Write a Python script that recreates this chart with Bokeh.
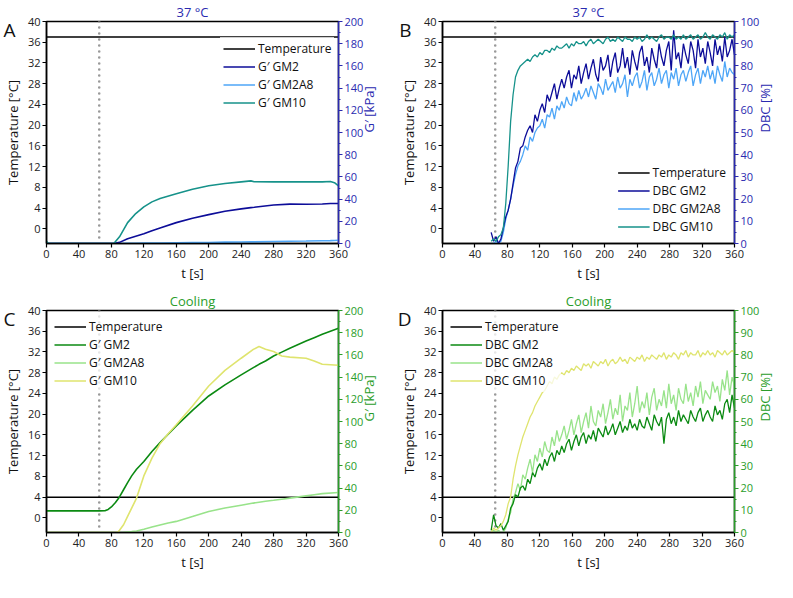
import math
from bokeh.plotting import figure
from bokeh.models import Range1d, LinearAxis, FixedTicker, Span, Legend, LegendItem
from bokeh.layouts import column, row
from bokeh.embed import file_html
from bokeh.resources import INLINE

FONT = "Open Sans"

# ---------------- ticks ----------------
X_TICKS = [0, 40, 80, 120, 160, 200, 240, 280, 320, 360]
TEMP_TICKS = [0, 4, 8, 12, 16, 20, 24, 28, 32, 36, 40]
GP_TICKS = [0, 20, 40, 60, 80, 100, 120, 140, 160, 180, 200]
GP_MINOR = [10, 30, 50, 70, 90, 110, 130, 150, 170, 190]
DBC_TICKS = [0, 10, 20, 30, 40, 50, 60, 70, 80, 90, 100]
DBC_MINOR = [5, 15, 25, 35, 45, 55, 65, 75, 85, 95]

# ---------------- temperature ----------------
temp_t = [0, 360]
temp_37 = [37, 37]
temp_4 = [4, 4]
t_irradiation = 65

# ---------------- panel A: G' at 37 °C [kPa] ----------------
a_t = [0, 2, 83, 90, 100, 110, 120, 130, 140, 160, 180, 200, 220, 240, 252, 256, 280, 300, 320, 340, 350, 355, 360]
a_gm2 = [0, 0, 0, 1, 4.3, 6.5, 8.7, 11.5, 14, 18.8, 22.8, 26, 29, 31.2, 32.3, 32.6, 34.7, 35.5, 35.3, 35.6, 36, 36, 36.1]
a_gm2a8 = [0, 0, 0, 0, 0.1, 0.2, 0.3, 0.4, 0.5, 0.7, 0.8, 0.9, 1.2, 1.4, 1.5, 1.5, 1.8, 2.0, 2.2, 2.5, 2.6, 2.7, 2.9]
a_gm10 = [2, 0, 0, 6, 18.8, 27, 33, 37.5, 40.5, 44.8, 48.8, 52, 54, 55.5, 56.4, 55.6, 55.5, 55.5, 55.5, 55.5, 55.8, 54.8, 52]

# ---------------- panel C: G' cooling [kPa] ----------------
c_t = [0, 65, 72, 76, 80, 85, 88, 90, 95, 100, 105, 111, 120, 130, 140, 150, 160, 180, 200, 220, 240, 255, 262, 270, 280, 290, 300, 320, 330, 340, 360]
c_gm2 = [19.5, 19.5, 19.6, 20.8, 23, 27, 30, 32, 38.5, 45, 51, 57, 64, 73, 81, 88.5, 96, 110, 123, 133, 142, 148.5, 151.5, 154.5, 159, 162.5, 166, 172.5, 175.5, 178.5, 184]
c_gm2a8 = [0, 0, 0, 0, 0, 0, 0, 0, 0.2, 0.5, 0.8, 1.3, 3, 5, 6.8, 8.5, 10, 14.5, 19, 22, 24.6, 26.5, 27.3, 28.2, 29, 30, 31, 33, 34, 35, 36]
c_gm10 = [0, 0, 0, 0, 0, 0, 0.5, 2, 7, 14.5, 22, 31, 51, 67, 80, 89, 97, 114, 132, 146, 157, 165, 167.5, 165, 163, 159, 158, 157, 154.5, 151.6, 150.7]

# ---------------- DBC sampling times [s] ----------------
dbc_t = list(range(60, 361, 3))

# ---------------- panel B: DBC at 37 °C [%] ----------------
b_gm2 = [5, 1, 3, 0, 2, 7, 12, 15, 20, 27,
         34, 37, 43, 44, 48, 51, 53, 50, 58, 55,
         60, 63, 59, 67, 64, 68, 72, 65, 70, 74,
         70, 75, 78, 70, 76, 74, 80, 72, 77, 81,
         74, 79, 83, 76, 73, 84, 78, 80, 85, 75,
         82, 86, 77, 80, 88, 79, 84, 76, 87, 82,
         78, 86, 89, 80, 84, 77, 88, 83, 79, 90,
         84, 80, 87, 91, 78, 96, 83, 86, 79, 90,
         85, 81, 91, 87, 79, 92, 84, 88, 81, 91,
         86, 80, 92, 85, 89, 82, 93, 84, 87, 92,
         85]
b_gm2a8 = [0, 0, 1, 0, 1, 5, 11, 15, 20, 26,
           31, 35, 37, 40, 44, 42, 48, 46, 50, 52,
           53, 56, 52, 58, 57, 61, 56, 62, 60, 64,
           61, 66, 63, 62, 68, 64, 69, 65, 67, 70,
           66, 71, 68, 65, 72, 70, 67, 74, 69, 71,
           73, 68, 75, 70, 72, 76, 66, 74, 71, 75,
           77, 70, 73, 78, 69, 75, 77, 71, 74, 79,
           72, 76, 78, 70, 77, 74, 79, 71, 76, 78,
           73, 77, 80, 71, 76, 79, 72, 78, 75, 80,
           74, 78, 72, 80, 76, 73, 82, 75, 79, 77,
           76]
b_gm10 = [1, 2, 1, 3, 4, 7, 18, 35, 55, 67,
          75, 78, 80, 81, 82, 83, 82, 84, 85, 84,
          86, 85, 87, 87, 86, 88, 87, 89, 88, 88,
          89, 90, 88, 90, 89, 91, 90, 90, 91, 89,
          91, 92, 90, 91, 92, 91, 90, 92, 93, 91,
          92, 91, 93, 92, 91, 93, 92, 92, 91, 93,
          92, 93, 91, 92, 94, 92, 93, 92, 91, 93,
          94, 92, 93, 93, 92, 94, 92, 93, 92, 94,
          92, 93, 94, 92, 93, 94, 92, 93, 95, 93,
          92, 94, 93, 92, 94, 93, 95, 92, 94, 93,
          94]

# ---------------- panel D: DBC cooling [%] ----------------
d_gm2 = [1, 8, 3, 2, 4, 1, 3, 5, 11, 13,
         17, 16, 20, 21, 19, 24, 22, 27, 25, 29,
         31, 28, 33, 30, 34, 36, 32, 37, 35, 39,
         36, 40, 42, 37, 41, 44, 39, 43, 45, 40,
         44, 42, 46, 41, 47, 45, 43, 48, 44, 46,
         49, 44, 47, 50, 45, 48, 46, 51, 47, 49,
         46, 51, 48, 47, 52, 49, 46, 53, 50, 48,
         52, 40, 51, 54, 49, 52, 48, 55, 50, 53,
         51, 49, 55, 52, 50, 54, 56, 50, 53, 55,
         52, 50, 57, 53, 55, 51, 58, 60, 54, 62,
         56]
d_gm2a8 = [0, 1, 0, 1, 0, 0, 2, 6, 9, 15,
           18, 22, 19, 26, 24, 29, 33, 27, 35, 32,
           38, 34, 41, 37, 36, 43, 39, 46, 41, 44,
           48, 42, 46, 51, 44, 49, 53, 45, 50, 54,
           47, 57, 50, 48, 55, 52, 58, 49, 54, 60,
           51, 56, 53, 62, 50, 57, 55, 63, 52, 58,
           66, 54, 59, 56, 63, 53, 61, 65, 55, 60,
           57, 64, 56, 67, 58, 62, 55, 65, 60, 58,
           67, 59, 63, 57, 66, 61, 68, 58, 64, 62,
           60, 68, 63, 66, 59, 69, 64, 73, 62, 70,
           66]
d_gm10 = [0, 2, 1, 2, 3, 5, 8, 13, 16, 24,
          30, 35, 39, 43, 46, 49, 52, 54, 57, 59,
          61, 63, 64, 66, 68, 67, 70, 69, 71, 72,
          71, 73, 72, 74, 73, 75, 74, 73, 76, 75,
          76, 74, 77, 76, 75, 77, 76, 78, 75, 77,
          78, 76, 77, 79, 77, 78, 76, 79, 78, 77,
          79, 78, 80, 77, 79, 78, 80, 79, 78, 80,
          79, 81, 78, 80, 79, 81, 80, 78, 81, 80,
          82, 79, 81, 80, 80, 82, 79, 81, 80, 82,
          80, 81, 79, 82, 81, 80, 82, 80, 81, 82,
          81]

# ---------------- colours ----------------
BLUE_AX = "#2a2ab0"
GREEN_AX = "#2a9d2a"
C_BLUE = {"GM2": "#0d0d99", "GM2A8": "#4ea6f7", "GM10": "#16928a"}
C_GREEN = {"GM2": "#0b8a12", "GM2A8": "#98e38a", "GM10": "#dfe46e"}

FRAME_W = 292
FRAME_H = 222
LETTER_Y = 38.4


def make_panel(letter, title, ax_color, r_label, r_max, r_ticks, r_minor, temp_y,
               xs, series, prefix, colors, legend_loc, left, top, lw):
    p = figure(frame_width=FRAME_W, frame_height=FRAME_H,
               x_range=Range1d(0, 360), y_range=Range1d(-2.8, 40),
               output_backend="svg", toolbar_location=None,
               min_border_left=left, min_border_right=10,
               min_border_top=top, min_border_bottom=10)
    p.extra_y_ranges = {"r": Range1d(0, r_max)}
    p.xgrid.visible = False
    p.ygrid.visible = False
    p.outline_line_color = "black"
    p.outline_line_width = 1.5
    p.background_fill_color = "white"

    p.title.text = title
    p.title.align = "center"
    p.title.text_color = ax_color
    p.title.text_font = FONT
    p.title.text_font_size = "13px"
    p.title.text_font_style = "normal"
    p.title.standoff = 1

    for ax in (p.xaxis[0], p.yaxis[0]):
        ax.axis_line_width = 1.5
        ax.axis_line_color = "black"
        ax.major_tick_out = 4
        ax.major_tick_in = 0
        ax.major_tick_line_width = 1.2
        ax.minor_tick_line_color = None
        ax.major_label_text_font = FONT
        ax.major_label_text_font_size = "11px"
        ax.major_label_text_color = "#222222"
        ax.major_label_standoff = 2
        ax.axis_label_text_font = FONT
        ax.axis_label_text_font_size = "13px"
        ax.axis_label_text_font_style = "normal"
        ax.axis_label_text_color = "#111111"
        ax.axis_label_standoff = 3
    p.xaxis[0].ticker = FixedTicker(ticks=X_TICKS)
    p.yaxis[0].ticker = FixedTicker(ticks=TEMP_TICKS)
    p.xaxis[0].axis_label = "t [s]"
    p.yaxis[0].axis_label = "Temperature [°C]"

    # panel letter, carried by an invisible outer axis whose label is pulled inwards
    lax = LinearAxis(ticker=FixedTicker(ticks=[LETTER_Y]), major_label_overrides={LETTER_Y: letter})
    lax.axis_line_color = None
    lax.major_tick_line_color = None
    lax.minor_tick_line_color = None
    lax.major_tick_out = 0
    lax.major_tick_in = 0
    lax.major_label_standoff = -15
    lax.major_label_text_font = FONT
    lax.major_label_text_font_size = "19px"
    lax.major_label_text_color = "#111111"
    p.add_layout(lax, "left")

    rax = LinearAxis(y_range_name="r", axis_label=r_label,
                     ticker=FixedTicker(ticks=r_ticks, minor_ticks=r_minor))
    rax.axis_line_color = ax_color
    rax.axis_line_width = 1.5
    rax.major_tick_line_color = ax_color
    rax.minor_tick_line_color = ax_color
    rax.major_tick_out = 4
    rax.major_tick_in = 0
    rax.minor_tick_out = 2
    rax.minor_tick_in = 0
    rax.major_label_text_color = ax_color
    rax.major_label_text_font = FONT
    rax.major_label_text_font_size = "11px"
    rax.major_label_standoff = 2
    rax.axis_label_text_color = ax_color
    rax.axis_label_text_font = FONT
    rax.axis_label_text_font_size = "13px"
    rax.axis_label_text_font_style = "normal"
    rax.axis_label_standoff = 3
    rax.axis_label_orientation = math.pi / 2
    p.add_layout(rax, "right")

    span = Span(location=t_irradiation, dimension="height", line_color="#9a9a9a",
                line_width=2.6, line_dash="0 6", line_cap="round", level="underlay")
    p.add_layout(span)

    r_temp = p.line(temp_t, temp_y, line_color="black", line_width=1.6)
    names = ["GM2", "GM2A8", "GM10"]
    rends = {}
    for nm in ["GM2A8", "GM2", "GM10"]:
        rends[nm] = p.line(xs, series[nm], line_color=colors[nm], line_width=lw, y_range_name="r")

    items = [LegendItem(label="Temperature", renderers=[r_temp])]
    for nm in names:
        items.append(LegendItem(label=prefix + " " + nm, renderers=[rends[nm]]))
    leg = Legend(items=items, location=legend_loc)
    leg.border_line_alpha = 0
    leg.background_fill_color = "white"
    leg.background_fill_alpha = 0.75
    leg.label_text_font = FONT
    leg.label_text_font_size = "12px"
    leg.label_text_color = "#111111"
    leg.glyph_width = 32
    leg.glyph_height = 15
    leg.label_height = 15
    leg.spacing = 1
    leg.padding = 3
    leg.margin = 5
    leg.label_standoff = 3
    p.add_layout(leg)
    return p


pA = make_panel("A", "37 °C", BLUE_AX, "G′ [kPa]", 200, GP_TICKS, GP_MINOR, temp_37,
                a_t, {"GM2": a_gm2, "GM2A8": a_gm2a8, "GM10": a_gm10}, "G′", C_BLUE,
                (174, 129), 30, 16, 1.6)
pB = make_panel("B", "37 °C", BLUE_AX, "DBC [%]", 100, DBC_TICKS, DBC_MINOR, temp_37,
                dbc_t, {"GM2": b_gm2, "GM2A8": b_gm2a8, "GM10": b_gm10}, "DBC", C_BLUE,
                "bottom_right", 52, 16, 1.3)
pC = make_panel("C", "Cooling", GREEN_AX, "G′ [kPa]", 200, GP_TICKS, GP_MINOR, temp_4,
                c_t, {"GM2": c_gm2, "GM2A8": c_gm2a8, "GM10": c_gm10}, "G′", C_GREEN,
                "top_left", 30, 26, 1.6)
pD = make_panel("D", "Cooling", GREEN_AX, "DBC [%]", 100, DBC_TICKS, DBC_MINOR, temp_4,
                dbc_t, {"GM2": d_gm2, "GM2A8": d_gm2a8, "GM10": d_gm10}, "DBC", C_GREEN,
                "top_left", 52, 26, 1.3)

layout = column(row(pA, pB), row(pC, pD))
open("out.html", "w").write(file_html(layout, INLINE))
